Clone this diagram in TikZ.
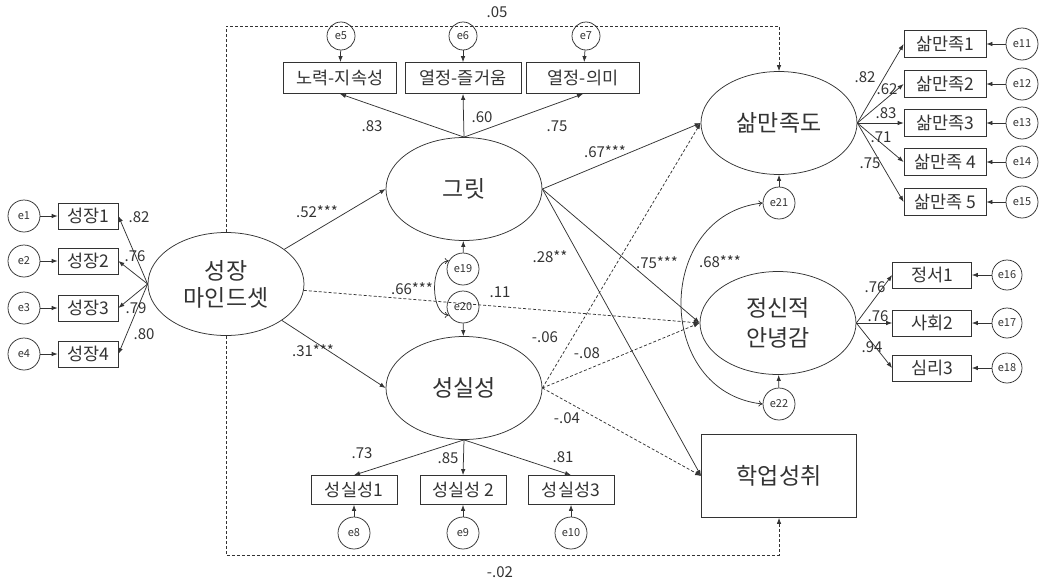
\documentclass[tikz,border=0pt]{standalone}
\usepackage{fontspec}
\setmainfont{Noto Sans CJK KR}
\usetikzlibrary{shapes.geometric,arrows.meta}
\definecolor{lc}{HTML}{333333}
\begin{document}
\begin{tikzpicture}[x=1pt,y=-1pt,color=lc,line width=0.75pt,
 lat/.style={ellipse,draw,minimum width=156pt,minimum height=103pt,inner sep=0pt,align=center,font=\fontsize{23}{27}\selectfont},
 obs/.style={rectangle,draw,inner sep=0pt,font=\fontsize{17.5}{20}\selectfont},
 err/.style={circle,draw,minimum size=32pt,inner sep=0pt,font=\fontsize{11}{12}\selectfont},
 arr/.style={-{Latex[length=6pt,width=4.5pt]}},
 dsh/.style={arr,dash pattern=on 3pt off 2pt},
 cov/.style={{To[length=4pt,width=6pt]}-{To[length=4pt,width=6pt]}},
 lbl/.style={font=\fontsize{15}{17}\selectfont,inner sep=0pt}
]
\useasboundingbox (0,0) rectangle (1042,581);

% latent variables
\node[lat] (gm) at (226,284) {성장\\마인드셋};
\node[lat] (grit) at (464,189) {그릿};
\node[lat] (cons) at (464,388) {성실성};
\node[lat] (ls) at (779,123) {삶만족도};
\node[lat,font=\fontsize{23}{30}\selectfont] (wb) at (778,323) {정신적\\안녕감};
\node[obs,minimum width=155pt,minimum height=83pt,font=\fontsize{23}{27}\selectfont] (ach) at (779,476) {학업성취};

% growth mindset indicators
\foreach \i/\y in {1/216,2/261,3/308,4/354}{
  \node[obs,minimum width=60pt,minimum height=26pt] (m\i) at (88,\y) {성장\i};
  \node[err] (e\i) at (24,\y) {e\i};
  \draw[arr] (e\i) -- (m\i);
  \draw[arr] (gm.west) -- (m\i.east);
}

% grit indicators
\node[obs,minimum width=113pt,minimum height=31pt] (g1) at (340,78) {노력-지속성};
\node[obs,minimum width=116pt,minimum height=31pt] (g2) at (463,78) {열정-즐거움};
\node[obs,minimum width=113pt,minimum height=31pt] (g3) at (583,78) {열정-의미};
\node[err,minimum size=28pt] (e5) at (341,36) {e5};
\node[err,minimum size=28pt] (e6) at (463,36) {e6};
\node[err,minimum size=28pt] (e7) at (586,36) {e7};
\draw[arr] (e5) -- (g1);
\draw[arr] (e6) -- (g2);
\draw[arr] (e7) -- (g3);
\draw[arr] (grit.north) -- (g1.south);
\draw[arr] (grit.north) -- (g2.south);
\draw[arr] (grit.north) -- (g3.south);

% conscientiousness indicators
\node[obs,minimum width=86pt,minimum height=29pt] (c1) at (354,490) {성실성1};
\node[obs,minimum width=86pt,minimum height=29pt] (c2) at (463,490) {성실성 2};
\node[obs,minimum width=86pt,minimum height=29pt] (c3) at (571,490) {성실성3};
\node[err] (e8) at (354,533) {e8};
\node[err] (e9) at (463,533) {e9};
\node[err] (e10) at (571,533) {e10};
\draw[arr] (e8) -- (c1);
\draw[arr] (e9) -- (c2);
\draw[arr] (e10) -- (c3);
\draw[arr] (cons.south) -- (c1.north);
\draw[arr] (cons.south) -- (c2.north);
\draw[arr] (cons.south) -- (c3.north);

% life satisfaction indicators
\foreach \i/\y/\t in {1/44/삶만족1,2/84/삶만족2,3/123/삶만족3,4/162/삶만족 4,5/202/삶만족 5}{
  \node[obs,minimum width=82pt,minimum height=27pt] (s\i) at (945,\y) {\t};
}
\foreach \i/\y/\n in {1/44/11,2/84/12,3/123/13,4/162/14,5/202/15}{
  \node[err] (e\n) at (1022,\y) {e\n};
  \draw[arr] (e\n) -- (s\i);
  \draw[arr] (ls.east) -- (s\i.west);
}

% well-being indicators
\node[obs,minimum width=79pt,minimum height=26pt] (w1) at (932,275) {정서1};
\node[obs,minimum width=79pt,minimum height=26pt] (w2) at (932,323) {사회2};
\node[obs,minimum width=79pt,minimum height=26pt] (w3) at (932,368) {심리3};
\node[err,minimum size=30pt] (e16) at (1007,275) {e16};
\node[err,minimum size=30pt] (e17) at (1007,323) {e17};
\node[err,minimum size=30pt] (e18) at (1007,368) {e18};
\draw[arr] (e16) -- (w1);
\draw[arr] (e17) -- (w2);
\draw[arr] (e18) -- (w3);
\draw[arr] (wb.east) -- (w1.west);
\draw[arr] (wb.east) -- (w2.west);
\draw[arr] (wb.east) -- (w3.west);

% disturbances
\node[err] (e19) at (463,269) {e19};
\node[err] (e20) at (463,307) {e20};
\node[err] (e21) at (779,203) {e21};
\node[err] (e22) at (779,404) {e22};
\draw[arr] (e19) -- (grit);
\draw[arr] (e20) -- (cons);
\draw[arr] (e21) -- (ls);
\draw[arr] (e22) -- (wb);
\draw[cov] (e19.150) .. controls (430,262) and (430,314) .. (e20.210);
\draw[cov] (e21.west) .. controls (654,215) and (654,392) .. (e22.west);

% structural paths
\draw[arr] (gm) -- (grit.west);
\draw[arr] (gm) -- (cons.west);
\draw[dsh] (gm) -- (wb.west);
\draw[arr] (grit.east) -- (ls.west);
\draw[arr] (grit.east) -- (wb.west);
\draw[arr] (grit.east) -- (ach.west);
\draw[dsh] (cons.east) -- (ls.west);
\draw[dsh] (cons.east) -- (wb.west);
\draw[dsh] (cons.east) -- (ach.west);

% direct paths around the frame
\coordinate (ty) at (0,26);
\coordinate (by) at (0,555);
\draw[dsh] (gm.north) -- (gm.north |- ty) -| (ls.north);
\draw[dsh] (gm.south) -- (gm.south |- by) -| (ach.south);

% labels
\node[lbl] (L1) at (497,12) {.05};
\node[lbl] (L2) at (500,572) {-.02};
\node[lbl] (L3) at (139,217) {.82};
\node[lbl] (L4) at (135,256) {.76};
\node[lbl] (L5) at (136,308) {.79};
\node[lbl] (L6) at (144,334) {.80};
\node[lbl] (L7) at (317,212) {.52***};
\node[lbl] (L8) at (313,351) {.31***};
\node[lbl] (L9) at (500,292) {.11};
\node[lbl] (L10) at (412,289) {.66***};
\node[lbl] (L11) at (372,126) {.83};
\node[lbl] (L12) at (482,117) {.60};
\node[lbl] (L13) at (557,126) {.75};
\node[lbl] (L14) at (605,152) {.67***};
\node[lbl] (L15) at (657,263) {.75***};
\node[lbl] (L16) at (550,257) {.28**};
\node[lbl] (L17) at (545,337) {-.06};
\node[lbl] (L18) at (587,353) {-.08};
\node[lbl] (L19) at (567,418) {-.04};
\node[lbl] (L20) at (362,453) {.73};
\node[lbl] (L21) at (448,458) {.85};
\node[lbl] (L22) at (563,457) {.81};
\node[lbl] (L23) at (865,77) {.82};
\node[lbl] (L24) at (887,89) {.62};
\node[lbl] (L25) at (886,113) {.83};
\node[lbl] (L26) at (881,137) {.71};
\node[lbl] (L27) at (870,163) {.75};
\node[lbl] (L28) at (720,262) {.68***};
\node[lbl] (L29) at (875,287) {.76};
\node[lbl] (L30) at (878,316) {.76};
\node[lbl] (L31) at (872,347) {.94};
\end{tikzpicture}
\end{document}
